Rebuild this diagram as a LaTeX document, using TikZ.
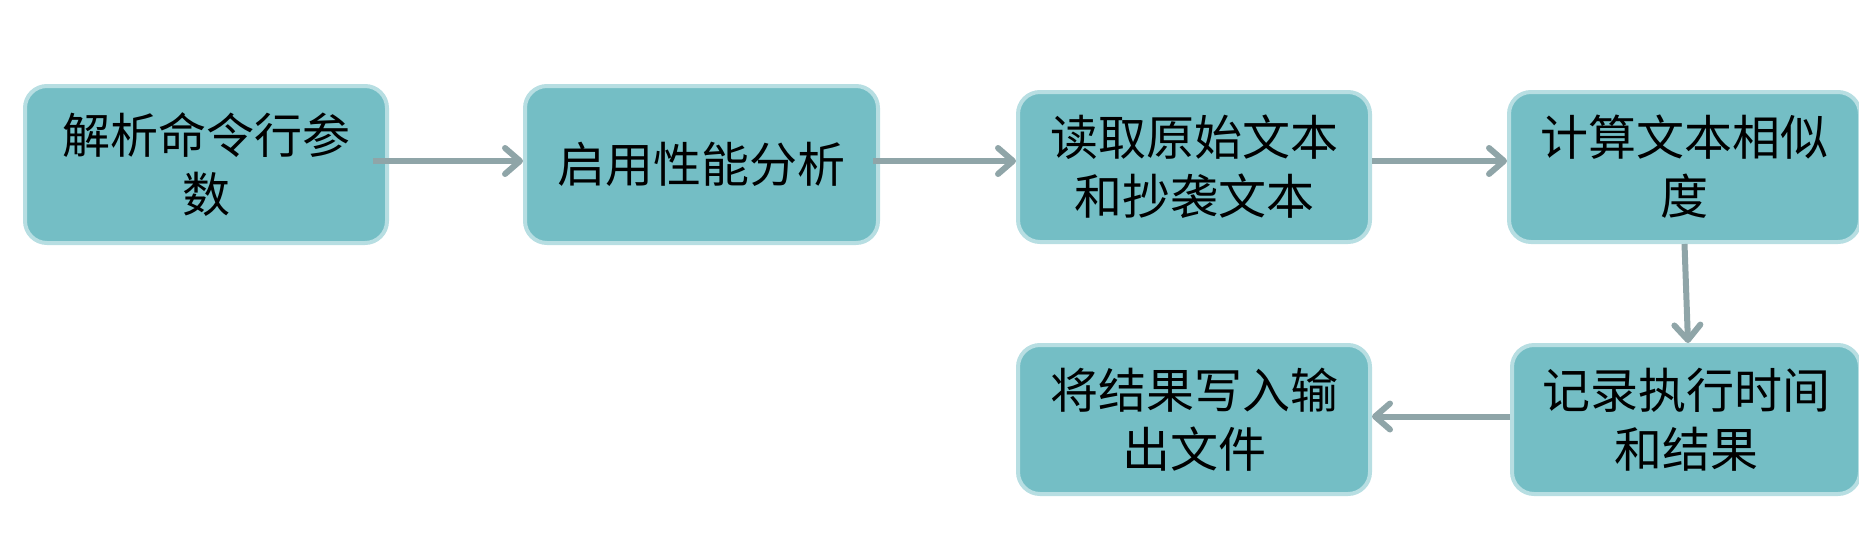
\documentclass[tikz,border=0pt]{standalone}
\usepackage{fontspec}
\newfontfamily\cjk{Noto Sans CJK SC}
\usetikzlibrary{arrows.meta}
\definecolor{boxfill}{RGB}{116,190,197}
\definecolor{boxedge}{RGB}{183,222,226}
\definecolor{arrowc}{RGB}{143,165,168}
\begin{document}
\begin{tikzpicture}[x=1pt,y=-1pt,
  stepbox/.style={draw=boxedge, line width=4pt, fill=boxfill, rounded corners=22pt,
    inner sep=0pt, align=center, text=black,
    font=\cjk\fontsize{48}{59}\selectfont},
  flow/.style={draw=arrowc, line width=6pt, -{Straight Barb[length=15pt,width=26pt,line width=6pt,round]}}]
\useasboundingbox (0,0) rectangle (1859,533);
\node[stepbox, minimum width=362pt, minimum height=157pt] (b1) at (206,164.5) {解析命令行参\\数};
\node[stepbox, minimum width=353pt, minimum height=157pt] (b2) at (701.5,164.5) {启用性能分析};
\node[stepbox, minimum width=352pt, minimum height=150pt] (b3) at (1194,167) {读取原始文本\\和抄袭文本};
\node[stepbox, minimum width=351pt, minimum height=150pt] (b4) at (1684.5,167) {计算文本相似\\度};
\node[stepbox, minimum width=352pt, minimum height=149pt] (b5) at (1194,419.5) {将结果写入输\\出文件};
\node[stepbox, minimum width=348pt, minimum height=149pt] (b6) at (1686,419.5) {记录执行时间\\和结果};
\draw[flow] ([xshift=-16pt,yshift=3.5pt]b1.east) -- ([yshift=3.5pt]b2.west);
\draw[flow] ([xshift=-7pt,yshift=3.5pt]b2.east) -- ([yshift=6pt]b3.west);
\draw[flow] ([yshift=6pt]b3.east) -- ([yshift=6pt]b4.west);
\draw[flow] (b4.south) -- ([xshift=2pt]b6.north);
\draw[flow] ([yshift=3pt]b6.west) -- ([yshift=3pt]b5.east);
\end{tikzpicture}
\end{document}
